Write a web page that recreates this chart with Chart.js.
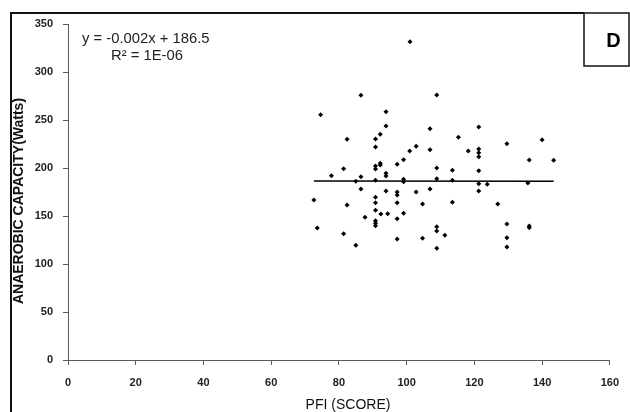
<!DOCTYPE html>
<html>
<head>
<meta charset="utf-8">
<script src="https://cdn.jsdelivr.net/npm/chart.js@4.4.0/dist/chart.umd.min.js"></script>
<style>
  body { margin: 0; background: #fff; }
  canvas { display: block; }
</style>
</head>
<body>
<canvas id="chart" width="630" height="412"></canvas>
<script>
// values
const pfi = [86.5, 108.9, 74.6, 93.9, 93.9, 82.4, 90.8, 92.2, 90.8, 106.9, 115.3, 118.2, 100.9, 102.8, 106.9,
  99.1, 97.2, 92.2, 92.2, 90.8, 90.8, 93.9, 93.9, 81.4, 77.8, 86.5, 85, 90.8, 99.1, 99.1, 108.9, 108.9, 113.5,
  113.5, 86.5, 93.9, 97.2, 97.2, 102.8, 106.9, 72.6, 82.4, 90.8, 90.8, 97.2, 104.7, 113.5, 90.8, 92.4, 94.4,
  99.1, 87.7, 97.2, 90.8, 90.8, 90.8, 73.6, 81.4, 85, 97.2, 104.7, 108.9, 108.9, 111.3, 108.9, 121.3, 121.3,
  121.3, 121.3, 129.6, 140, 136.2, 143.4, 121.3, 121.3, 123.8, 121.3, 135.8, 126.9, 129.6, 136.2, 136.2,
  129.6, 129.6, 101];
const capacity = [275.7, 276, 255.5, 258.6, 243.8, 229.9, 230.2, 235.1, 221.9, 240.9, 232, 217.7, 217.7, 222.6, 219,
  208.6, 203.9, 204.9, 203.1, 202.1, 199, 194.5, 191.7, 199.3, 192, 190.9, 186.1, 187.2, 188.2, 185.7, 200, 188.9, 197.6,
  187.2, 178.1, 176, 175, 171.9, 175, 178.1, 166.7, 161.5, 169.5, 163.9, 163.9, 162.5, 164.3, 155.9, 152.1, 152.4,
  152.8, 148.6, 147.2, 145.1, 142.4, 139.9, 137.5, 131.6, 119.5, 126, 126.8, 138.9, 134.4, 129.9, 116.4, 242.7, 219.8,
  216, 211.8, 225.3, 229.5, 208.3, 208, 197.2, 183.6, 183, 176, 184.4, 162.5, 141.7, 139.6, 137.8,
  127.4, 117.7, 331.6];

// linear trend line ends
const trendX = [72.6, 143.4];
const trendY = [186.4, 186.2];

const xTicks = [0, 20, 40, 60, 80, 100, 120, 140, 160];
const yTicks = [0, 50, 100, 150, 200, 250, 300, 350];

const equation = 'y = -0.002x + 186.5';
const rSquared = 'R\u00B2 = 1E-06';
const panelLetter = 'D';
const xTitle = 'PFI (SCORE)';
const yTitle = 'ANAEROBIC CAPACITY(Watts)';

const axisColor = '#595959';
const tickFont = { family: 'Liberation Sans, Arial', size: 11, weight: 'bold' };

const decorations = {
    id: 'decorations',
    afterDraw(chart) {
        const ctx = chart.ctx;
        ctx.save();
        // outer frame (top + left) and the panel box
        ctx.strokeStyle = '#111';
        ctx.lineWidth = 2;
        ctx.beginPath();
        ctx.moveTo(11, 412);
        ctx.lineTo(11, 13);
        ctx.lineTo(584, 13);
        ctx.stroke();
        ctx.lineWidth = 1.5;
        ctx.strokeRect(584, 13, 45, 53);

        ctx.fillStyle = '#000';
        ctx.font = 'bold 20px Liberation Sans, Arial';
        ctx.textAlign = 'center';
        ctx.textBaseline = 'middle';
        ctx.fillText(panelLetter, 613.5, 41);

        // regression label
        ctx.font = '14.8px Liberation Sans, Arial';
        ctx.textAlign = 'left';
        ctx.fillStyle = '#222';
        ctx.fillText(equation, 82, 39);
        ctx.fillText(rSquared, 111, 56);

        // axis titles
        ctx.fillStyle = '#111';
        ctx.textAlign = 'center';
        ctx.font = '14px Liberation Sans, Arial';
        ctx.fillText(xTitle, 348, 405);
        ctx.translate(19, 201);
        ctx.rotate(-Math.PI / 2);
        ctx.font = 'bold 14px Liberation Sans, Arial';
        ctx.fillText(yTitle, 0, 0);
        ctx.restore();
    }
};

new Chart(document.getElementById('chart'), {
    type: 'scatter',
    data: {
        datasets: [{
            data: pfi.map((x, i) => ({ x: x, y: capacity[i] })),
            pointStyle: 'rectRot',
            pointRadius: 2.5,
            pointBackgroundColor: '#000',
            pointBorderWidth: 0
        },
        {
            type: 'line',
            data: trendX.map((x, i) => ({ x: x, y: trendY[i] })),
            borderColor: '#000',
            borderWidth: 1.5,
            pointRadius: 0
        }]
    },
    options: {
        responsive: false,
        animation: false,
        layout: { padding: { left: 0, top: 24, right: 15, bottom: 0 } },
        plugins: {
            legend: { display: false },
            tooltip: { enabled: false }
        },
        scales: {
            x: {
                type: 'linear',
                min: 0,
                max: 160,
                afterBuildTicks: scale => { scale.ticks = xTicks.map(v => ({ value: v })); },
                afterFit: scale => { scale.height = 52; },
                grid: { drawOnChartArea: false, drawTicks: true, tickLength: 5, color: axisColor },
                border: { color: axisColor },
                ticks: { font: tickFont, color: '#222', padding: 11, maxRotation: 0 }
            },
            y: {
                min: 0,
                max: 350,
                afterBuildTicks: scale => { scale.ticks = yTicks.map(v => ({ value: v })); },
                afterFit: scale => { scale.width = 68; },
                grid: { drawOnChartArea: false, drawTicks: true, tickLength: 5, color: axisColor },
                border: { color: axisColor },
                ticks: { font: tickFont, color: '#222', padding: 10 }
            }
        }
    },
    plugins: [decorations]
});
</script>
</body>
</html>
